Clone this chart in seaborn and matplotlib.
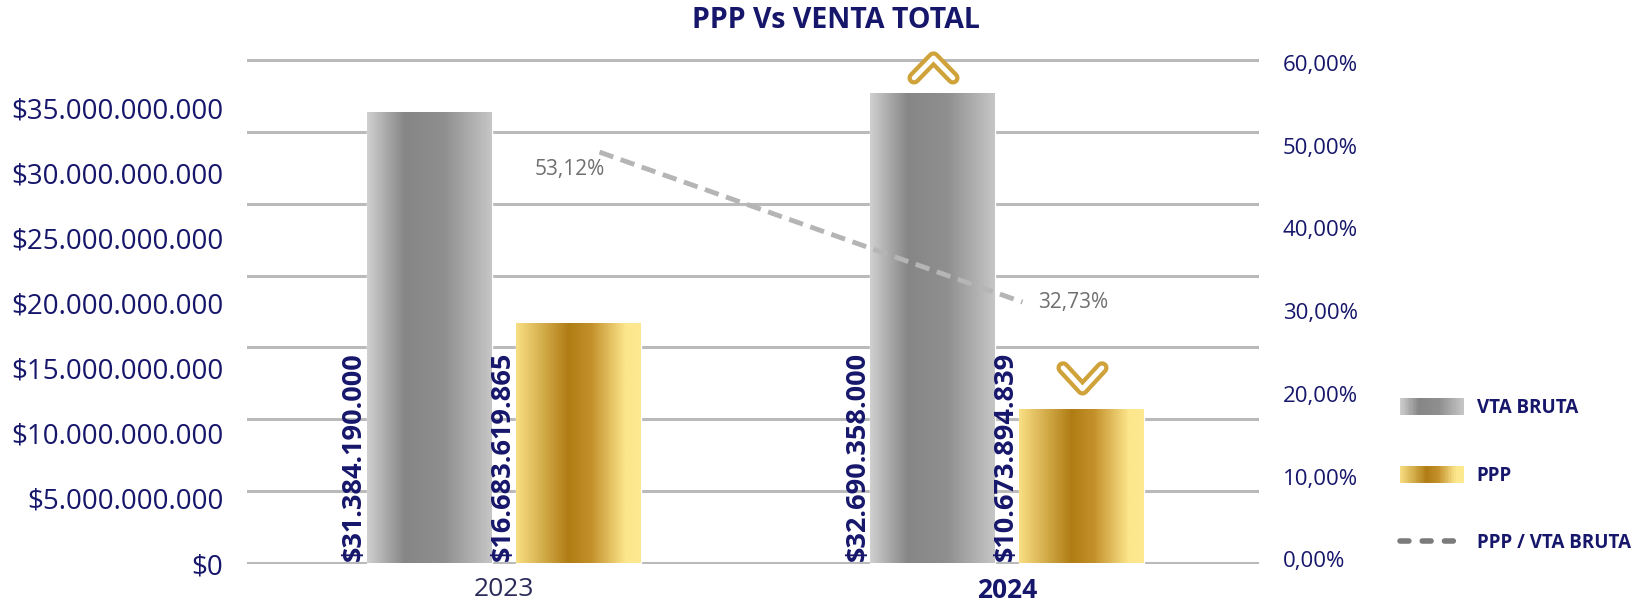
import matplotlib.pyplot as plt
import numpy as np
import pandas as pd
import seaborn as sns
from matplotlib.colors import LinearSegmentedColormap
from matplotlib.legend_handler import HandlerBase
from matplotlib.lines import Line2D
from matplotlib.markers import MarkerStyle
from matplotlib.patches import Patch, Rectangle
from matplotlib.path import Path
from matplotlib.ticker import FuncFormatter

# datos
years = ["2023", "2024"]
series = ["VTA BRUTA", "PPP"]
vta_bruta = [31384190000, 32690358000]
ppp = [16683619865, 10673894839]
ratio = [53.12, 32.73]  # PPP / VTA BRUTA (%)
left_ticks = [0, 5e9, 10e9, 15e9, 20e9, 25e9, 30e9, 35e9]
right_ticks = [0, 10, 20, 30, 40, 50, 60]

NAVY = "#16166b"
GOLD = "#cfa23a"
gray_cmap = LinearSegmentedColormap.from_list(
    "gris", [(0, "#d0d0d0"), (0.3, "#868686"), (0.62, "#8f8f8f"), (1, "#c6c6c6")])
gold_cmap = LinearSegmentedColormap.from_list(
    "oro", [(0, "#f9df84"), (0.42, "#b07c14"), (0.6, "#c3902a"), (0.88, "#fde68c"), (1, "#fde990")])


def miles(v):
    return f"{v:,.0f}".replace(",", ".")


def fmt_money(v, _=None):
    return "$" + miles(v)


def fmt_pct(v, _=None):
    return f"{v:.2f}".replace(".", ",") + "%"


class HandlerGradient(HandlerBase):
    def __init__(self, cmap, n=40):
        super().__init__()
        self.cmap = cmap
        self.n = n

    def create_artists(self, legend, orig_handle, xdescent, ydescent,
                       width, height, fontsize, trans):
        w = width / self.n
        return [Rectangle((-xdescent + i * w, -ydescent), w * 1.05, height,
                          facecolor=self.cmap((i + 0.5) / self.n),
                          edgecolor="none", transform=trans)
                for i in range(self.n)]


sns.set_style("white")
plt.rcParams["font.family"] = ["Open Sans", "DejaVu Sans"]

fig = plt.figure(figsize=(16.45, 6.10), dpi=100)
ax = fig.add_axes([0.1502, 0.0762, 0.6152, 0.8274])

df = pd.DataFrame({
    "año": years * 2,
    "serie": [series[0]] * len(years) + [series[1]] * len(years),
    "valor": vta_bruta + ppp,
})
sns.barplot(data=df, x="año", y="valor", hue="serie", hue_order=series,
            palette=["#8c8c8c", "#c09030"], saturation=1, width=0.591, gap=0.16,
            errorbar=None, legend=False, ax=ax)

# degradado en cada barra + etiqueta vertical
grad = np.linspace(0, 1, 256).reshape(1, -1)
bars = list(ax.patches)
for bar in bars:
    x0, w, h = bar.get_x(), bar.get_width(), bar.get_height()
    is_vta = np.isclose(h, vta_bruta).any()
    ax.imshow(grad, cmap=gray_cmap if is_vta else gold_cmap,
              extent=(x0, x0 + w, 0, h), aspect="auto",
              interpolation="bilinear", zorder=bar.get_zorder() + 0.1)
    ax.annotate(fmt_money(h), xy=(x0, 0), xytext=(0, 1),
                textcoords="offset points", rotation=90, ha="right",
                va="bottom", fontsize=19.5, fontweight="bold", color=NAVY,
                zorder=6)

# flechas de tendencia sobre las barras del ultimo año
chev_up = (Path([(-14, 11.2), (0, 25.6), (14, 11.2)],
                [Path.MOVETO, Path.LINETO, Path.LINETO]), 51.2)
chev_down = (Path([(-14, 30), (0, 14.8), (14, 30)],
                  [Path.MOVETO, Path.LINETO, Path.LINETO]), 60)
for vals in (vta_bruta, ppp):
    bar = next(b for b in bars if np.isclose(b.get_height(), vals[-1]))
    path, size = chev_up if vals[-1] > vals[0] else chev_down
    cx = bar.get_x() + bar.get_width() / 2
    for mew, col in ((9.5, GOLD), (3.4, "white")):
        ax.plot([cx], [bar.get_height()], ls="none",
                marker=MarkerStyle(path, fillstyle="none", joinstyle="round",
                                   capstyle="round"),
                ms=size, mew=mew, mec=col, clip_on=False, zorder=7)

ax.set_xlim(-0.51, 1.5)
ax.set_ylim(-0.06e9, 35.1e9)
ax.set_yticks(left_ticks)
ax.set_axisbelow(True)
ax.yaxis.grid(True, color="#bababa", lw=2.2)
ax.xaxis.grid(False)
ax.tick_params(axis="y", labelleft=False, length=0)
ax.tick_params(axis="x", length=0, pad=10, labelsize=19)
ax.set_xlabel("")
ax.set_ylabel("")
xt = ax.get_xticklabels()
xt[0].set_color("#2b2b5a")
xt[1].set_color(NAVY)
xt[1].set_fontweight("bold")

# etiquetas del eje izquierdo
ax_l = ax.twinx()
ax_l.yaxis.tick_left()
ax_l.set_ylim(0, 38.78e9)
ax_l.set_yticks(left_ticks)
ax_l.yaxis.set_major_formatter(FuncFormatter(fmt_money))
ax_l.tick_params(axis="y", length=0, pad=17, labelsize=20, labelcolor=NAVY)

# etiquetas del eje derecho
ax_r = ax.twinx()
ax_r.set_ylim(-0.5, 60.5)
ax_r.set_yticks(right_ticks)
ax_r.yaxis.set_major_formatter(FuncFormatter(fmt_pct))
ax_r.tick_params(axis="y", length=0, pad=17, labelsize=16, labelcolor=NAVY)

# linea PPP / VTA BRUTA
ax_line = ax.twinx()
line_x = np.arange(len(years)) + np.array([0.19, 0.03])
sns.lineplot(x=line_x, y=ratio, ax=ax_line, color="#b5b5b5", lw=3.5, ls="--")
ax_line.lines[0].set_dashes([3, 1.6])
ax_line.set_ylim(-2.8, 65.8)
ax_line.set_yticks([])
ax_line.set_ylabel("")
ax_line.annotate(fmt_pct(ratio[0]), xy=(line_x[0], ratio[0]), xytext=(4, -5),
                 textcoords="offset points", ha="right", va="top",
                 fontsize=15, color="#6f6f6f")
ax_line.annotate(fmt_pct(ratio[1]), xy=(line_x[1], ratio[1]), xytext=(11, 0),
                 textcoords="offset points", ha="left", va="center",
                 fontsize=15, color="#6f6f6f")

for a in (ax, ax_l, ax_r, ax_line):
    for s in a.spines.values():
        s.set_visible(False)

fig.text(0.508, 0.966, "PPP Vs VENTA TOTAL", ha="center", va="center",
         fontsize=20.5, fontweight="bold", color=NAVY)

h_vta = Patch(label=series[0])
h_ppp = Patch(label=series[1])
h_line = Line2D([], [], color="#7b7b7b", lw=4, dashes=(1.6, 2.4),
                dash_capstyle="round", label="PPP / VTA BRUTA")
fig.legend(handles=[h_vta, h_ppp, h_line],
           handler_map={h_vta: HandlerGradient(gray_cmap),
                        h_ppp: HandlerGradient(gold_cmap)},
           loc="upper left", bbox_to_anchor=(0.851, 0.348), frameon=False,
           prop={"weight": "bold", "size": 13.5}, labelcolor=NAVY,
           handlelength=3.4, handleheight=1.0, handletextpad=0.7,
           labelspacing=2.55, borderpad=0, borderaxespad=0)

fig.savefig("out.png", dpi=100)
